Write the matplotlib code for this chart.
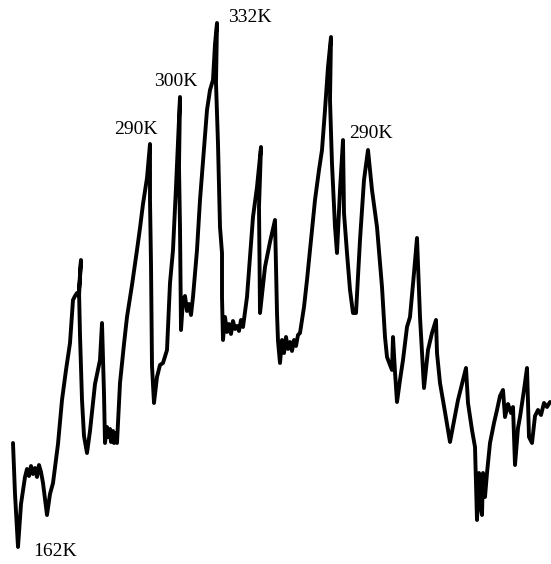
import matplotlib
matplotlib.use("Agg")
import matplotlib.pyplot as plt

# Trace position along the profile and signal height (arbitrary units, 0 at bottom)
pos = [13, 15, 18, 21, 25, 27, 29, 31, 33, 35, 37, 39, 41, 43, 45, 47,
       50, 53, 58, 62, 66, 70, 73, 75, 77, 79, 81,
       79, 80, 82, 84, 87, 90, 95, 100, 102,
       104, 105, 107, 108, 110, 111, 113, 114, 116, 117,
       120, 124, 127, 132, 137, 140, 143, 147, 150,
       150, 151, 152, 154, 157, 160, 163, 167, 170, 173, 176, 180,
       179, 180, 181, 183, 185, 187, 189, 191, 193,
       197, 200, 204, 207, 210, 213, 215, 217,
       216, 218, 220, 222, 222, 223, 225, 227, 229, 231, 233, 235, 237, 239, 241, 243,
       247, 250, 253, 257, 261,
       259, 260, 265, 270, 275,
       277, 278, 280, 282, 284, 286, 288, 290, 292, 294, 296, 298, 300,
       304, 307, 311, 315, 319, 322, 325, 328, 331,
       330, 332, 335, 337, 340, 343,
       344, 347, 350, 353, 356, 360, 364, 368,
       372, 377, 382, 385, 387, 390, 392, 393, 395, 397,
       400, 403, 407, 410, 414, 417,
       420, 424, 428, 432, 436, 437, 440, 445, 450,
       454, 458, 462, 466, 468, 472, 475, 477, 479, 480, 482, 483, 485, 487,
       490, 494, 497, 500, 503, 505, 508, 511, 513, 515,
       518, 520, 524, 527, 529, 532, 535, 538, 541, 544, 547, 550]
height = [121, 70, 17, 60, 87, 95, 88, 98, 90, 96, 87, 99, 92, 81, 65, 49,
          70, 81, 120, 164, 194, 221, 264, 268, 271, 268, 304,
          274, 229, 164, 128, 111, 133, 180, 204, 241,
          170, 121, 137, 127, 135, 122, 133, 121, 131, 121,
          181, 220, 247, 279, 314, 336, 360, 386, 420,
          364, 300, 198, 161, 187, 199, 201, 214, 281, 314, 377, 467,
          397, 337, 234, 264, 268, 253, 260, 249, 267,
          314, 364, 416, 454, 474, 484, 520, 541,
          481, 420, 337, 311, 267, 224, 247, 232, 240, 230, 243, 235, 238, 233, 244, 237,
          267, 307, 347, 377, 417,
          357, 251, 297, 322, 344,
          251, 223, 201, 224, 211, 227, 215, 222, 213, 224, 218, 229, 231,
          257, 284, 324, 364, 394, 414, 454, 497, 527,
          464, 400, 337, 311, 374, 424,
          351, 311, 274, 251, 251, 324, 384, 414,
          374, 337, 277, 227, 207, 199, 194, 227, 192, 162,
          184, 204, 237, 247, 291, 326,
          247, 176, 214, 231, 244, 211, 181, 152, 122,
          143, 164, 180, 196, 161, 134, 117, 44, 91, 61, 49, 91, 67, 91,
          121, 141, 154, 168, 174, 147, 160, 151, 157, 99,
          136, 147, 174, 196, 127, 121, 148, 154, 149, 161, 157, 162]

# Peaks that carry a temperature label: (index into the trace, text, x/y offset, alignment)
peak_labels = ["162K", "290K", "300K", "332K", "290K"]
peak_index = [2, 54, 66, 83, 145]
label_offset = [(15, -4), (8, 15), (17, 15), (11, 5), (3, 16)]
label_align = ["left", "right", "right", "left", "center"]

fig = plt.figure(figsize=(5.51, 5.64), dpi=100)
ax = fig.add_axes([0, 0, 1, 1])
ax.plot(pos, height, color="black", lw=2.8, solid_joinstyle="round",
        solid_capstyle="round")

for txt, i, (dx, dy), ha in zip(peak_labels, peak_index, label_offset, label_align):
    ax.text(pos[i] + dx, height[i] + dy, txt, ha=ha, va="center",
            fontsize=14, family="Liberation Serif", color="black")

ax.set_xlim(0, 551)
ax.set_ylim(0, 564)
ax.axis("off")
fig.savefig("out.png", dpi=100, facecolor="white")
